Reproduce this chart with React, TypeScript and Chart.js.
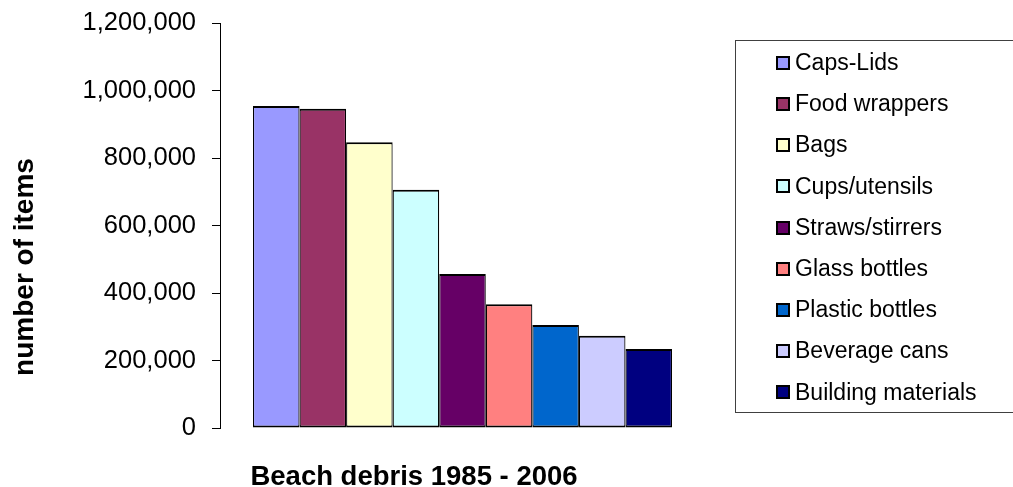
import React, { useEffect, useRef } from "react";
import { Chart, registerables } from "chart.js";

Chart.register(...registerables);

const categories = ["Beach debris 1985 - 2006"];
const seriesNames = [
  "Caps-Lids",
  "Food wrappers",
  "Bags",
  "Cups/utensils",
  "Straws/stirrers",
  "Glass bottles",
  "Plastic bottles",
  "Beverage cans",
  "Building materials",
];
const seriesValues = [954000, 946000, 847000, 706000, 456000, 367000, 305000, 273000, 234000];
const seriesColors = [
  "#9999FF",
  "#993366",
  "#FFFFCC",
  "#CCFFFF",
  "#660066",
  "#FF8080",
  "#0066CC",
  "#CCCCFF",
  "#000080",
];
const yTicks = [0, 200000, 400000, 600000, 800000, 1000000, 1200000];
const yTitle = "number of items";
const xTitle = "Beach debris 1985 - 2006";

const FONT = '"Liberation Sans", Arial, Helvetica, sans-serif';

const decorPlugin = {
  id: "decor",
  afterDraw(chart: any) {
    const ctx = chart.ctx as CanvasRenderingContext2D;
    // axis titles
    ctx.save();
    ctx.fillStyle = "#000";
    ctx.font = `bold 27.5px ${FONT}`;
    ctx.textAlign = "center";
    ctx.textBaseline = "alphabetic";
    ctx.fillText(xTitle, 414, 485);
    ctx.translate(33, 267);
    ctx.rotate(-Math.PI / 2);
    ctx.font = `bold 28px ${FONT}`;
    ctx.fillText(yTitle, 0, 0);
    ctx.restore();

    // legend
    ctx.save();
    ctx.strokeStyle = "#404040";
    ctx.lineWidth = 1;
    ctx.strokeRect(735.5, 40.5, 290, 372);
    const datasets = chart.data.datasets;
    ctx.font = `23px ${FONT}`;
    ctx.textAlign = "left";
    ctx.textBaseline = "middle";
    datasets.forEach((ds: any, i: number) => {
      const cy = 62.7 + i * 41.2;
      ctx.fillStyle = ds.backgroundColor;
      ctx.fillRect(777, Math.round(cy) - 6, 12, 12);
      ctx.strokeStyle = "#000";
      ctx.lineWidth = 2;
      ctx.strokeRect(777, Math.round(cy) - 6, 12, 12);
      ctx.fillStyle = "#000";
      ctx.fillText(ds.label, 795, cy + 1);
    });
    ctx.restore();
  },
};

export default function App() {
  const ref = useRef<HTMLCanvasElement | null>(null);

  useEffect(() => {
    if (!ref.current) return;
    const chart = new Chart(ref.current, {
      type: "bar",
      data: {
        labels: categories,
        datasets: seriesNames.map((name, i) => ({
          label: name,
          data: [seriesValues[i]],
          backgroundColor: seriesColors[i],
          borderColor: "#000",
          borderWidth: { top: 2, bottom: 2, left: 1.2, right: 1.2 },
          borderSkipped: false,
          categoryPercentage: 0.864,
          barPercentage: 1,
        })),
      },
      options: {
        animation: false,
        responsive: false,
        devicePixelRatio: 1,
        layout: { padding: { top: 23, right: 308, bottom: 59, left: 0 } },
        plugins: {
          legend: { display: false },
          tooltip: { enabled: false },
        },
        scales: {
          x: { display: false },
          y: {
            min: 0,
            max: 1200000,
            afterFit: (scale: any) => {
              scale.width = 220;
              scale.paddingTop = 0;
              scale.paddingBottom = 0;
            },
            afterBuildTicks: (scale: any) => {
              scale.ticks = yTicks.map((v) => ({ value: v }));
            },
            grid: {
              drawOnChartArea: false,
              drawTicks: true,
              tickLength: 8,
              color: "#000",
              lineWidth: 1,
            },
            border: { display: true, color: "#000", width: 1 },
            ticks: {
              padding: 16,
              color: "#000",
              font: { family: FONT, size: 25.5 },
              callback: (v: any) => Number(v).toLocaleString("en-US"),
            },
          },
        },
      },
      plugins: [decorPlugin],
    });
    return () => chart.destroy();
  }, []);

  return (
    <div style={{ position: "fixed", left: 0, top: 0, width: 1013, height: 487, background: "#fff" }}>
      <canvas ref={ref} width={1013} height={487} style={{ width: 1013, height: 487, display: "block" }} />
    </div>
  );
}
